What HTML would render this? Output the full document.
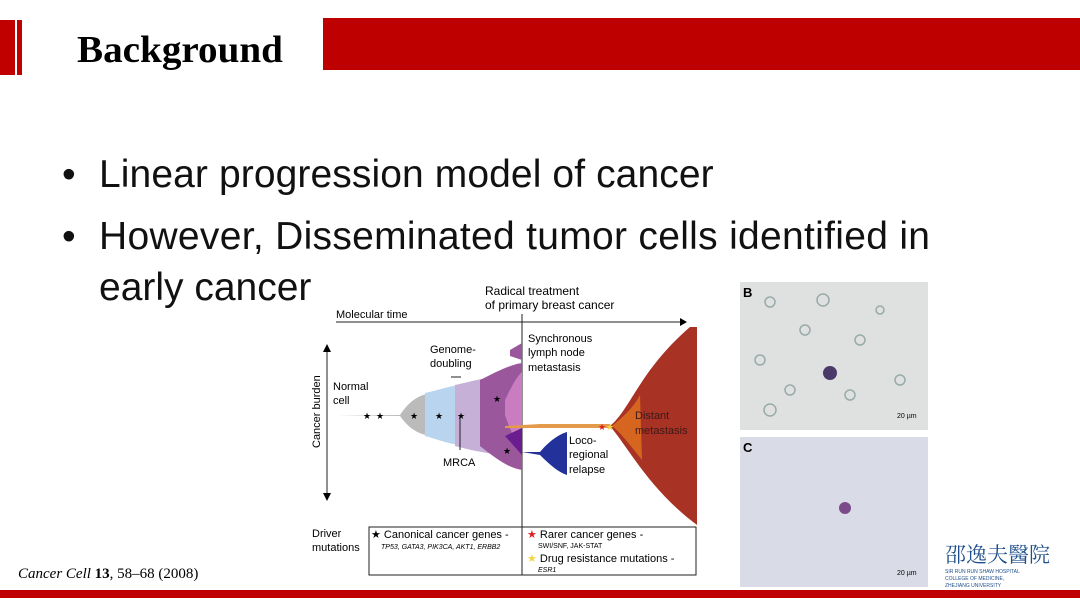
<!DOCTYPE html>
<html><head><meta charset="utf-8"><style>
body{margin:0;width:1080px;height:608px;background:#fff;position:relative;overflow:hidden;font-family:"Liberation Sans",sans-serif}
.a{position:absolute}
.b{position:absolute;font-size:39px;color:#111;white-space:nowrap}
</style></head><body>
<div class="a" style="left:0;top:20px;width:15px;height:55px;background:#c00000"></div>
<div class="a" style="left:17px;top:20px;width:5px;height:55px;background:#c00000"></div>
<div class="a" style="left:323px;top:18px;width:757px;height:52px;background:#bf0000"></div>
<div class="a" style="left:77px;top:28px;font:bold 38px 'Liberation Serif',serif;color:#000;transform:scaleX(1.03);transform-origin:left">Background</div>
<div class="a" style="left:0;top:590px;width:1080px;height:8px;background:#c00000"></div>
<div class="b" style="left:62px;top:153px">•</div><div class="b" style="left:99px;top:153px;letter-spacing:0.1px">Linear progression model of cancer</div>
<div class="b" style="left:62px;top:215px">•</div><div class="b" style="left:99px;top:215px;letter-spacing:0.3px">However, Disseminated tumor cells identified in</div>
<div class="b" style="left:99px;top:266px">early cancer</div>
<div class="a" style="left:18px;top:566px;font:italic 15px 'Liberation Serif',serif">Cancer Cell <b style="font-style:normal">13</b><span style="font-style:normal">, 58–68 (2008)</span></div>
<svg class="a" style="left:0;top:0" width="1080" height="608" font-family="Liberation Sans">
<rect x="314" y="278" width="386" height="312" fill="#fff"/>
<text x="485" y="295" font-size="12">Radical treatment</text>
<text x="485" y="309" font-size="12">of primary breast cancer</text>
<text x="336" y="318" font-size="11">Molecular time</text>
<line x1="336" y1="322" x2="682" y2="322" stroke="#222"/><path d="M680 318 L687 322 L680 326Z"/>
<line x1="522" y1="314" x2="522" y2="575" stroke="#222"/>
<line x1="327" y1="350" x2="327" y2="495" stroke="#222"/>
<path d="M323 352 L327 344 L331 352Z M323 493 L327 501 L331 493Z"/>
<text transform="translate(320,448) rotate(-90)" font-size="11">Cancer burden</text>
<text x="333" y="390" font-size="11">Normal</text><text x="333" y="404" font-size="11">cell</text>
<path d="M337 415 L400 415 C410 400 420 393 440 392 L440 437 C420 436 410 430 400 416Z" fill="#bbb"/>
<path d="M425 393 C440 390 450 385 470 384 L470 446 C450 445 440 440 425 436Z" fill="#b8d4ee"/>
<path d="M455 385 C470 382 480 378 500 377 L500 455 C480 452 470 450 455 446Z" fill="#c6b0d8"/>
<path d="M480 380 C500 370 510 365 522 363 L522 470 C510 468 500 462 480 446Z" fill="#9a579b"/>
<path d="M505 400 C512 385 518 375 522 372 L522 450 C515 440 510 430 505 415Z" fill="#c97cbf"/>
<path d="M510 350 L522 343 L522 360 L510 356Z" fill="#9a579b"/>
<path d="M505 436 L522 428 L522 455 Z" fill="#6a1d8f"/>
<path d="M505 426 L540 424 L610 424 L610 428 L505 428Z" fill="#e39a4a"/>
<path d="M522 452 L540 452 C550 440 560 434 567 432 L567 475 C558 472 550 465 540 455Z" fill="#22329a"/>
<path d="M610 426 C630 410 640 370 690 327 L697 327 L697 525 C650 490 630 450 610 426Z" fill="#a83223"/>
<path d="M612 426 C625 415 633 408 640 395 L642 460 C630 445 620 432 612 426Z" fill="#d66520"/>
<text x="430" y="353" font-size="11">Genome-</text><text x="430" y="367" font-size="11">doubling</text>
<line x1="451" y1="377" x2="461" y2="377" stroke="#222"/>
<line x1="460" y1="415" x2="460" y2="450" stroke="#222"/>
<text x="443" y="466" font-size="11">MRCA</text>
<text x="528" y="342" font-size="11">Synchronous</text><text x="528" y="356" font-size="11">lymph node</text><text x="528" y="371" font-size="11">metastasis</text>
<text x="569" y="444" font-size="11">Loco-</text><text x="569" y="458" font-size="11">regional</text><text x="569" y="473" font-size="11">relapse</text>
<text x="635" y="419" font-size="11" fill="#3a1a1a">Distant</text><text x="635" y="434" font-size="11" fill="#3a1a1a">metastasis</text>
<g font-size="9"><text x="363" y="419">★</text><text x="376" y="419">★</text><text x="410" y="419">★</text><text x="435" y="419">★</text><text x="457" y="419">★</text><text x="493" y="402">★</text><text x="503" y="454">★</text></g>
<text x="598" y="430" font-size="9" fill="#d22">★</text><text x="606" y="430" font-size="9" fill="#f5d542">★</text>
<text x="312" y="537" font-size="11">Driver</text><text x="312" y="551" font-size="11">mutations</text>
<rect x="369" y="527" width="327" height="48" fill="none" stroke="#222"/>
<text x="371" y="538" font-size="11">★ Canonical cancer genes -</text>
<text x="381" y="549" font-size="7" font-style="italic">TP53, GATA3, PIK3CA, AKT1, ERBB2</text>
<text x="527" y="538" font-size="11"><tspan fill="#d22">★</tspan> Rarer cancer genes -</text>
<text x="538" y="548" font-size="7">SWI/SNF, JAK-STAT</text>
<text x="527" y="562" font-size="11"><tspan fill="#f5d542">★</tspan> Drug resistance mutations -</text>
<text x="538" y="572" font-size="7" font-style="italic">ESR1</text>
<rect x="740" y="282" width="188" height="148" fill="#dfe1e0"/>
<rect x="740" y="437" width="188" height="150" fill="#d9dbe6"/>
<text x="743" y="297" font-size="13" font-weight="bold">B</text>
<text x="743" y="452" font-size="13" font-weight="bold">C</text>
<circle cx="830" cy="373" r="7" fill="#4a3a6a"/>
<circle cx="845" cy="508" r="6" fill="#7a4a8a"/>
<g fill="none" stroke="#9aa" stroke-width="1.5"><circle cx="770" cy="302" r="5"/><circle cx="805" cy="330" r="5"/><circle cx="823" cy="300" r="6"/><circle cx="860" cy="340" r="5"/><circle cx="790" cy="390" r="5"/><circle cx="900" cy="380" r="5"/><circle cx="770" cy="410" r="6"/><circle cx="850" cy="395" r="5"/><circle cx="880" cy="310" r="4"/><circle cx="760" cy="360" r="5"/></g>
<text x="897" y="418" font-size="7">20 µm</text><text x="897" y="575" font-size="7">20 µm</text>
<text x="945" y="562" font-size="21" fill="#1f4f8a" font-family="Noto Serif CJK SC,serif">邵逸夫醫院</text>
<text x="945" y="573" font-size="5" fill="#1f4f8a">SIR RUN RUN SHAW HOSPITAL</text>
<text x="945" y="580" font-size="5" fill="#1f4f8a">COLLEGE OF MEDICINE,</text>
<text x="945" y="587" font-size="5" fill="#1f4f8a">ZHEJIANG UNIVERSITY</text>
</svg>
</body></html>
